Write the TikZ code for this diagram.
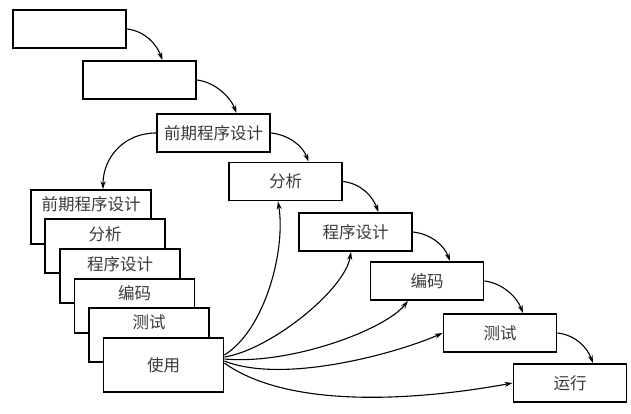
\documentclass[tikz,border=0pt]{standalone}
\usepackage{fontspec}
\setmainfont{Noto Sans CJK SC}
\usetikzlibrary{arrows.meta}
\definecolor{txtgray}{HTML}{3A3A3A}
\begin{document}
\begin{tikzpicture}[x=1pt,y=-1pt,
  box/.style={draw=black, line width=1.8pt, fill=white, minimum width=113pt, minimum height=38pt, inner sep=0pt, font=\fontsize{16.5}{18}\selectfont, text=txtgray},
  stk/.style={draw=black, line width=1.7pt, fill=white, minimum width=120pt, minimum height=54pt, inner sep=0pt},
  lbl/.style={font=\fontsize{16.5}{18}\selectfont, text=txtgray, inner sep=0pt},
  arr/.style={line width=1.1pt, -{Stealth[length=8pt,width=5pt]}}]
\fill[white] (0,0) rectangle (631,414);
\useasboundingbox (0,0) rectangle (631,414);
% staircase
\node[box] (B1) at (69.5,29) {};
\node[box] (B2) at (139.5,80) {};
\node[box] (B3) at (213.5,133) {前期程序设计};
\node[box] (B4) at (285.5,181.5) {分析};
\node[box] (B5) at (355.5,232) {程序设计};
\node[box] (B6) at (427,281) {编码};
\node[box] (B7) at (500,333) {测试};
\node[box] (B8) at (570,383) {运行};
% stack
\node[stk] (S1) at (91,217) {};
\node[lbl] (L1) at ([yshift=-15pt]S1.north) {前期程序设计};
\node[stk] (S2) at (105,246) {};
\node[lbl] (L2) at ([yshift=-16pt]S2.north) {分析};
\node[stk] (S3) at (120,276) {};
\node[lbl] (L3) at ([yshift=-16pt]S3.north) {程序设计};
\node[stk] (S4) at (134.5,306) {};
\node[lbl] (L4) at ([yshift=-15pt]S4.north) {编码};
\node[stk] (S5) at (149,335) {};
\node[lbl] (L5) at ([yshift=-15pt]S5.north) {测试};
\node[stk, font=\fontsize{16.5}{18}\selectfont, text=txtgray] (S6) at (163.5,365) {使用};
% staircase arrows
\foreach \a/\b in {B1/B2,B2/B3,B3/B4,B4/B5,B5/B6,B6/B7,B7/B8}{
  \draw[arr] (\a.east) .. controls +(18,2) and +(-6,-16) .. ([xshift=23pt]\b.north);
}
\draw[arr] (B3.west) .. controls +(-32,0) and +(0,-32) .. ([xshift=12pt]S1.north);
% arrows from 使用
\draw[arr] ([yshift=10pt]S6.east) .. controls (265,330) and (286,250) .. ([xshift=-7.5pt]B4.south);
\draw[arr] ([yshift=8pt]S6.east) .. controls (270,350) and (345,290) .. ([xshift=-4.5pt]B5.south);
\draw[arr] ([yshift=6pt]S6.east) .. controls (290,365) and (385,330) .. ([xshift=-19pt]B6.south);
\draw[arr] ([yshift=4pt]S6.east) .. controls (285,385) and (400,352) .. (B7.west);
\draw[arr] ([yshift=2pt]S6.east) .. controls (290,410) and (420,400) .. (B8.west);
\end{tikzpicture}
\end{document}
